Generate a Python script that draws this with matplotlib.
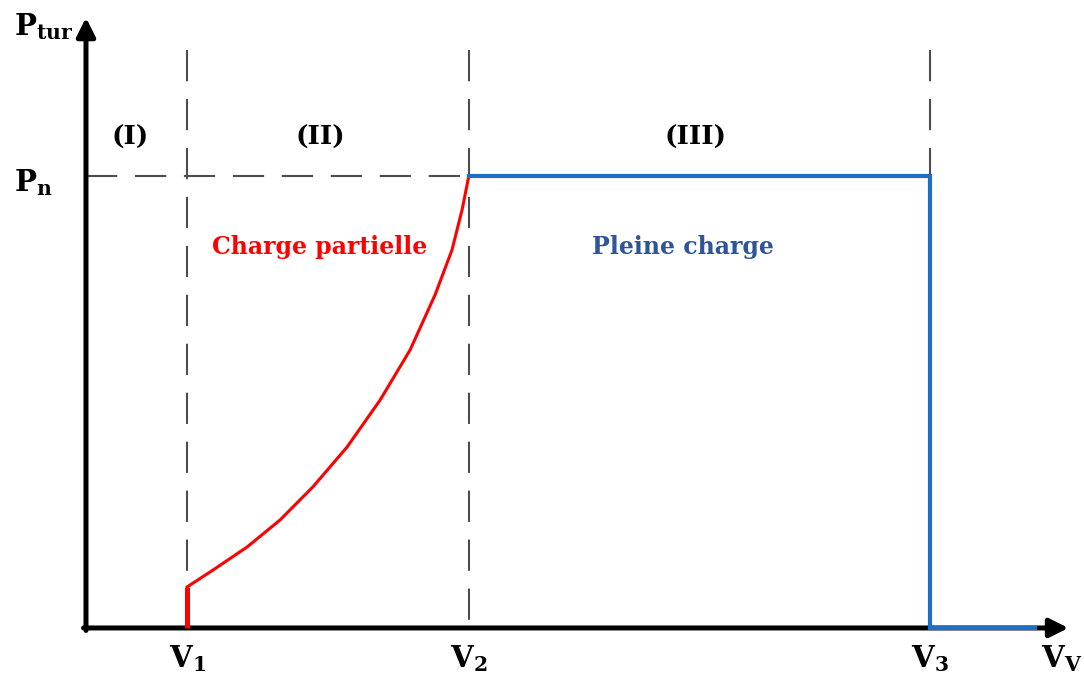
import matplotlib.pyplot as plt

plt.rcParams['mathtext.fontset'] = 'dejavuserif'

# wind speeds (m/s) and normalised turbine power
v1, v2, v3 = 3.0, 11.34, 25.0
v_end = 28.1
p_n = 1.0
p_cut_in = 0.091

# partial load curve
curve_v = [3.0, 3.76, 4.77, 5.75, 6.72, 7.73, 8.71, 9.60, 10.34, 10.84, 11.14, 11.34]
curve_p = [0.091, 0.128, 0.179, 0.239, 0.312, 0.400, 0.504, 0.615, 0.737, 0.836, 0.925, 1.0]

zone_labels = ['(I)', '(II)', '(III)']
zone_x = [1.30, 6.93, 18.04]
speed_labels = [r'$\mathbf{V_1}$', r'$\mathbf{V_2}$', r'$\mathbf{V_3}$']

fig = plt.figure(figsize=(10.84, 6.82), dpi=100)
ax = fig.add_axes([0, 0, 1, 1])
ax.set_xlim(-2.547, 29.56)
ax.set_ylim(-0.1195, 1.389)
ax.axis('off')

# dashed guides (drawn from the top so the pattern starts there)
dash = dict(color='#4d4d4d', lw=1.5, dashes=(15, 8.5), zorder=1)
for v in (v1, v2, v3):
    ax.plot([v, v], [1.279, 0], **dash)
ax.plot([0, v2], [p_n, p_n], **dash)

# axes with arrows
ax.annotate('', xy=(29.1, 0), xytext=(-0.074, 0),
            arrowprops=dict(arrowstyle='-|>', lw=3.6, color='black',
                            mutation_scale=28, shrinkA=0, shrinkB=0), zorder=3)
ax.annotate('', xy=(0, 1.35), xytext=(0, -0.0055),
            arrowprops=dict(arrowstyle='-|>', lw=3.6, color='black',
                            mutation_scale=28, shrinkA=0, shrinkB=0), zorder=3)

# power curve
ax.plot([v1, v1], [0, p_cut_in], color='red', lw=3.6, solid_capstyle='butt', zorder=4)
ax.plot(curve_v, curve_p, color='red', lw=2.2, solid_joinstyle='round', zorder=4)
ax.plot([v2, v3, v3, v_end], [p_n, p_n, 0, 0], color='#1f6fc6', lw=3.0,
        solid_joinstyle='miter', zorder=4)

# texts
font = dict(family='DejaVu Serif', fontweight='bold')
for lab, x in zip(zone_labels, zone_x):
    ax.text(x, 1.085, lab, ha='center', va='center', fontsize=19, **font)

ax.text(6.93, 0.843, 'Charge partielle', color='red', ha='center', va='center',
        fontsize=17, **font)
ax.text(17.68, 0.843, 'Pleine charge', color='#2f5597', ha='center', va='center',
        fontsize=17, **font)

for lab, x in zip(speed_labels, (v1, v2, v3)):
    ax.text(x, -0.068, lab, ha='center', va='center', fontsize=21)
ax.text(28.9, -0.068, r'$\mathbf{V_V}$', ha='center', va='center', fontsize=21)

ax.text(-1.25, 1.33, r'$\mathbf{P_{tur}}$', ha='center', va='center', fontsize=21)
ax.text(-1.55, 0.985, r'$\mathbf{P_n}$', ha='center', va='center', fontsize=21)

fig.savefig('out.png', dpi=100)
